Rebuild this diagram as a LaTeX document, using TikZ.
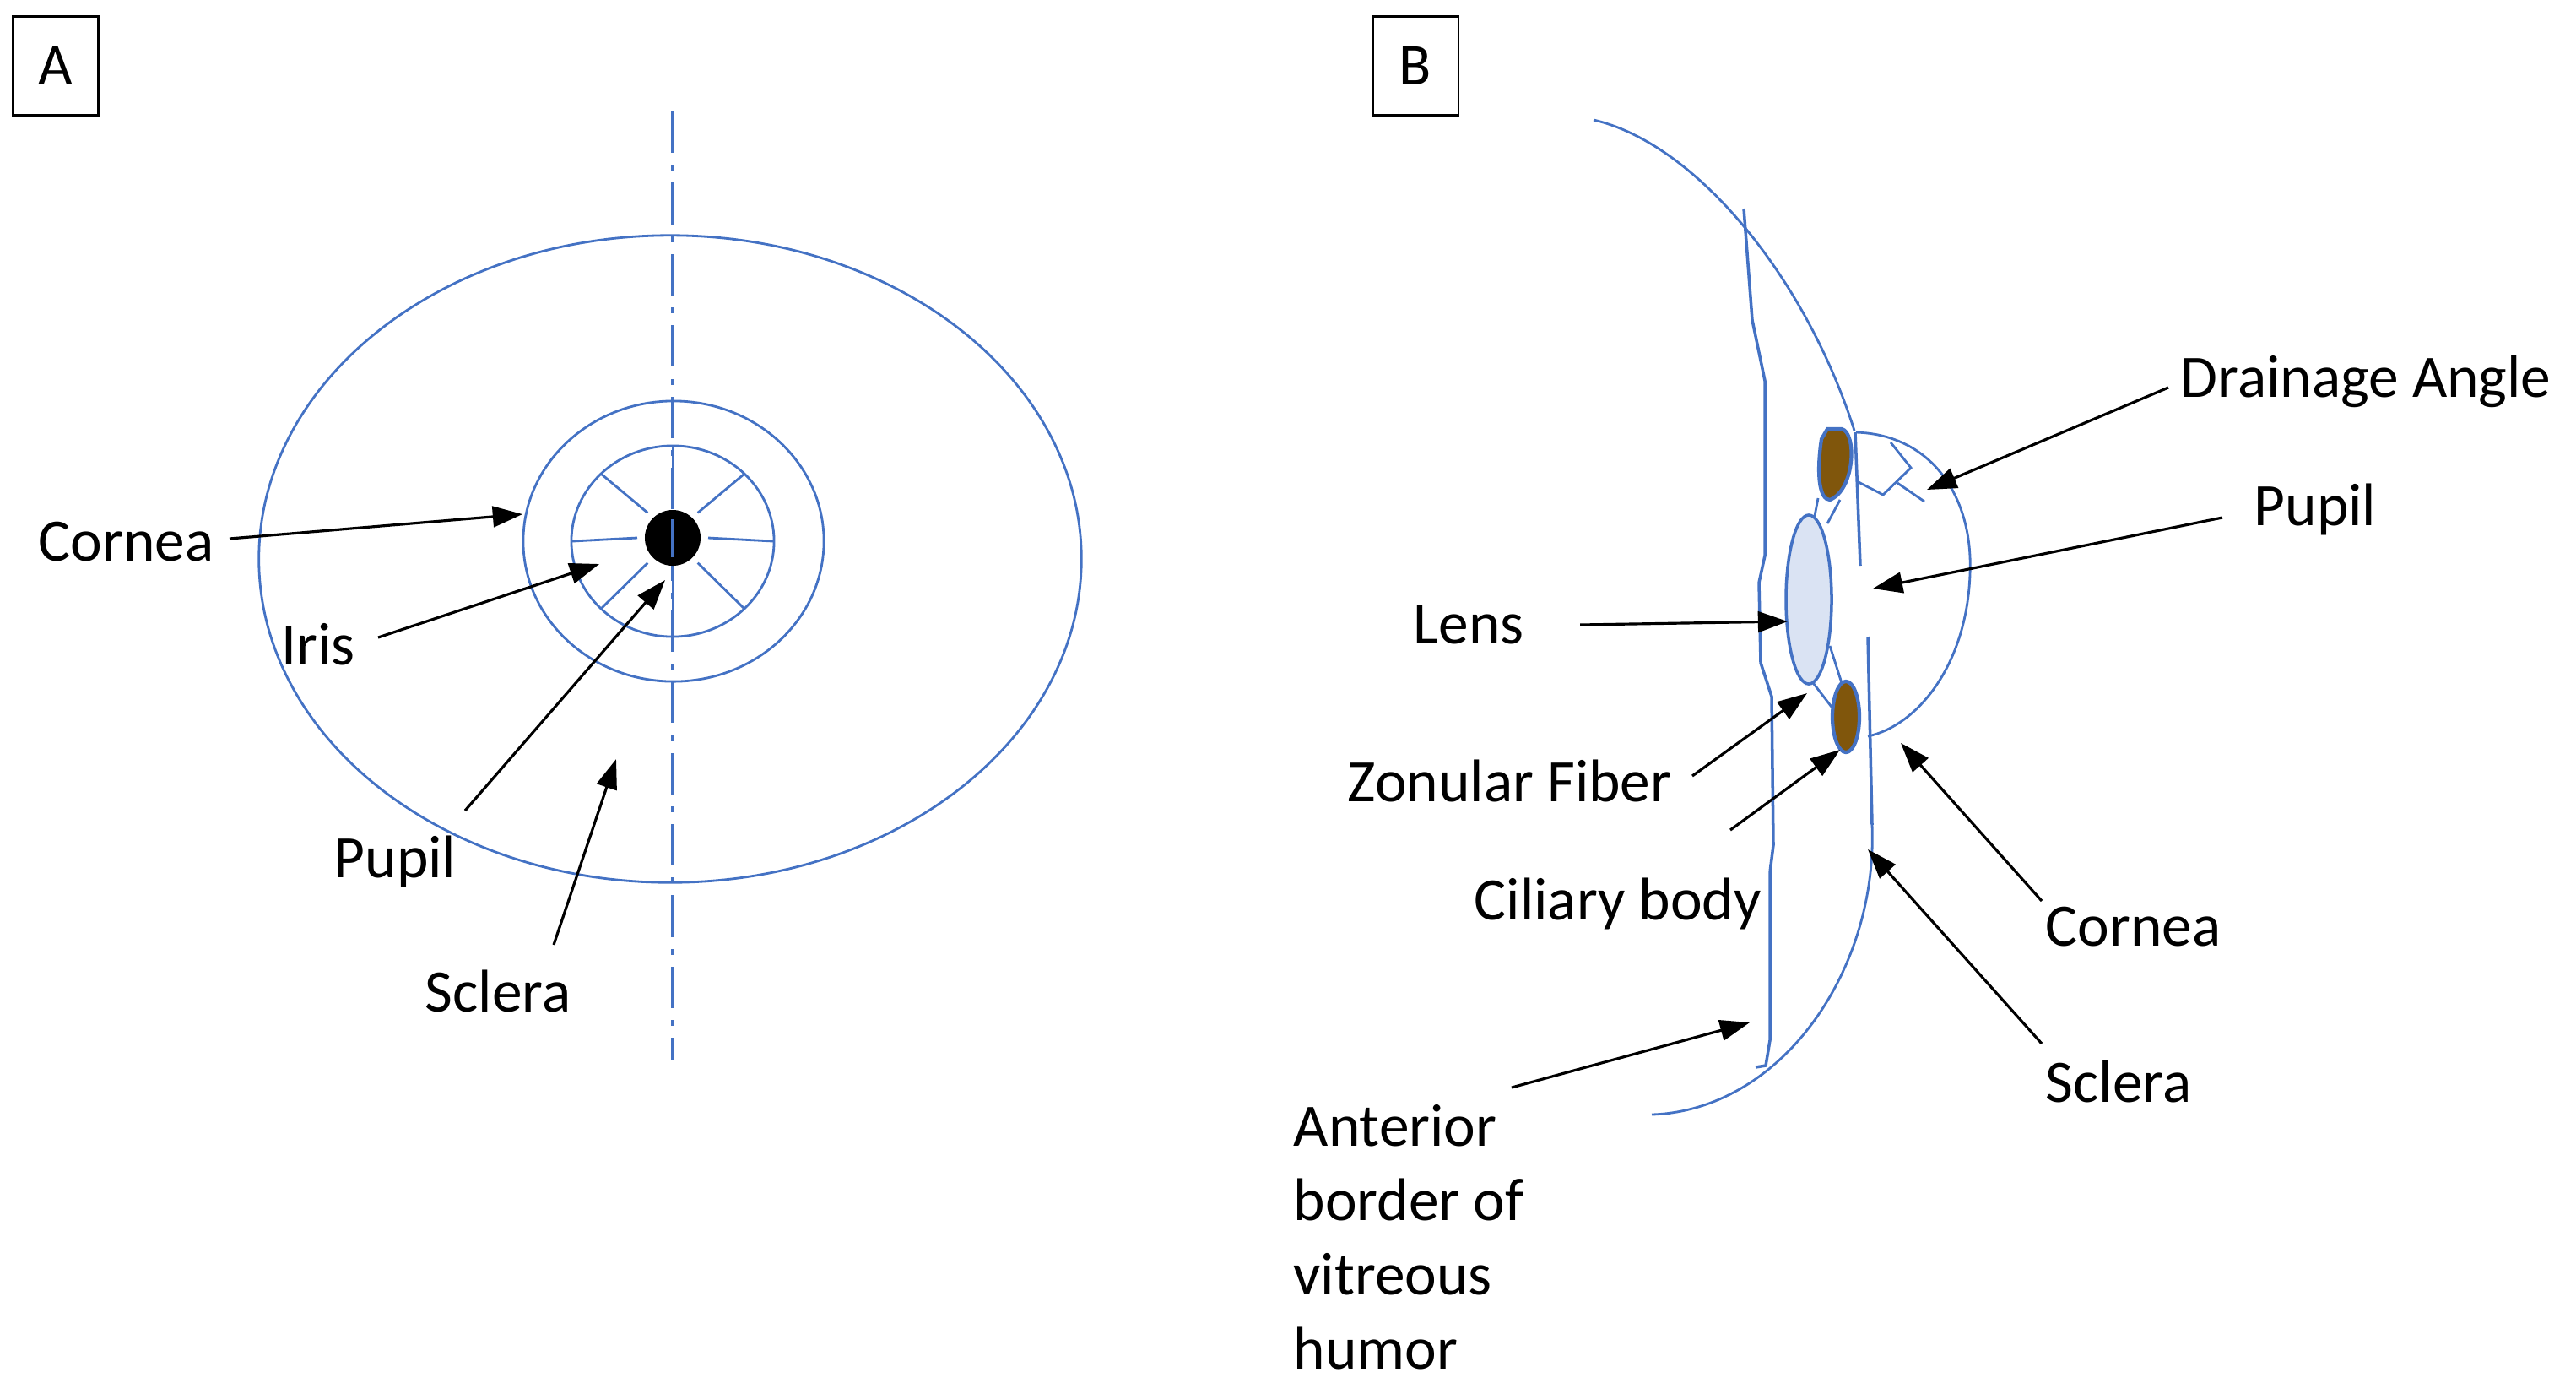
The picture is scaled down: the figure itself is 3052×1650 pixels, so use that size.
\documentclass[tikz,border=0pt]{standalone}
\usepackage{fontspec}
\setmainfont{Carlito}
\usetikzlibrary{arrows.meta}
\definecolor{eyeblue}{RGB}{68,114,196}
\definecolor{cil}{RGB}{128,86,12}
\definecolor{lensfill}{RGB}{218,227,243}
\begin{document}
\begin{tikzpicture}[x=0.01cm,y=-0.01cm,
  eye/.style={draw=eyeblue,line width=0.8pt},
  arr/.style={draw=black,line width=0.9pt,-{Triangle[length=10pt,width=7pt]}},
  lab/.style={font=\fontsize{20.3}{24}\selectfont,anchor=west,inner sep=0pt},
  box/.style={draw=black,line width=0.6pt,minimum width=1.01cm,minimum height=1.17cm,font=\fontsize{20}{24}\selectfont}]
\useasboundingbox (0,0) rectangle (3052,1650);
\fill[white] (0,0) rectangle (3052,1650);
% panel labels
\node[box] (boxA) at (66,78) {A};
\node[box] (boxB) at (1677,78) {B};
% ---- Panel A ----
\draw[eyeblue,line width=0.9pt,dash pattern=on 14pt off 4pt on 2pt off 4pt] (797,132) -- (797,1255);
\draw[eye] (794,662) ellipse [x radius=4.87cm,y radius=3.83cm];
\draw[eye] (798,641) ellipse [x radius=1.78cm,y radius=1.66cm];
\draw[eye] (797,641) ellipse [x radius=1.20cm,y radius=1.13cm];
\foreach \a in {0,45,...,315}
  \draw[eye] ({797+42*cos(\a)},{637-42*sin(\a)}) -- ({797+119*cos(\a)},{641-112*sin(\a)});
\fill[black] (797,637) circle (0.33cm);
\draw[eyeblue,line width=0.9pt] (797,615) -- (797,660);
\node[lab] (tCorneaA) at (45,642) {Cornea};
\node[lab] (tIris) at (333,763) {Iris};
\node[lab] (tPupilA) at (395,1020) {Pupil};
\node[lab] (tSclera) at (503,1174) {Sclera};
\coordinate (aC1) at (272,638); \coordinate (aC2) at (619,609);
\coordinate (aI1) at (448,755); \coordinate (aI2) at (710,668);
\coordinate (aP1) at (551,960); \coordinate (aP2) at (788,687);
\coordinate (aS1) at (656,1119); \coordinate (aS2) at (730,899);
\draw[arr] (aC1) -- (aC2);
\draw[arr] (aI1) -- (aI2);
\draw[arr] (aP1) -- (aP2);
\draw[arr] (aS1) -- (aS2);
% ---- Panel B ----
% sclera
\draw[eye] (1888,142) .. controls (2010,170) and (2140,330) .. (2197,510);
\draw[eye] (2218,977) .. controls (2225,1150) and (2110,1315) .. (1957,1320);
% iris lines
\draw[eye,line width=1pt] (2198,512) -- (2204,670);
\draw[eye,line width=1pt] (2213,754) -- (2218,977);
% cornea bulge
\draw[eye] (2199,512) .. controls (2290,515) and (2338,590) .. (2334,680)
  .. controls (2330,790) and (2270,860) .. (2213,872);
% drainage angle
\draw[eye] (2200,570) -- (2231,586) -- (2264,554) -- (2240,524);
\draw[eye] (2248,572) -- (2280,594);
% vitreous border
\draw[eye,line width=1pt] (2066,247) -- (2076,379) -- (2091,451) -- (2091,658) -- (2084,690)
  -- (2086,785) -- (2099,825) -- (2101,1001) -- (2097,1033) -- (2097,1232) -- (2092,1262) -- (2080,1264);
% zonular fibers
\draw[eye] (2149,616) -- (2154,590);
\draw[eye] (2165,620) -- (2180,592);
\draw[eye] (2139,797) -- (2176,845);
\draw[eye] (2168,765) -- (2182,809);
% lens
\draw[eye,fill=lensfill,line width=1pt] (2143,710) ellipse [x radius=0.27cm,y radius=1.0cm];
% ciliary bodies
\draw[eye,fill=cil,line width=1.2pt] (2165,508) -- (2182,508) .. controls (2200,512) and (2198,580) .. (2168,592)
  .. controls (2155,592) and (2152,560) .. (2158,520) -- cycle;
\draw[eye,fill=cil,line width=1.2pt] (2187,849) ellipse [x radius=0.16cm,y radius=0.42cm];
% labels
\node[lab] (tDrain) at (2583,452) {Drainage Angle};
\node[lab] (tPupilB) at (2670,603) {Pupil};
\node[lab] (tLens) at (1674,740) {Lens};
\node[lab] (tZon) at (1596,925) {Zonular Fiber};
\node[lab] (tCil) at (1746,1070) {Ciliary body};
\node[lab] (tCorneaB) at (2423,1098) {Cornea};
\node[lab] (tScleraB) at (2423,1281) {Sclera};
\node[lab,align=left,anchor=west,font=\fontsize{20.3}{25}\selectfont] (tVit) at (1532,1465) {Anterior\\border of\\vitreous\\humor};
\coordinate (bD1) at (2569,459); \coordinate (bD2) at (2283,580);
\coordinate (bP1) at (2633,613); \coordinate (bP2) at (2219,697);
\coordinate (bL1) at (1872,740); \coordinate (bL2) at (2118,736);
\coordinate (bZ1) at (2005,919); \coordinate (bZ2) at (2141,821);
\coordinate (bCi1) at (2050,983); \coordinate (bCi2) at (2180,888);
\coordinate (bCo1) at (2419,1067); \coordinate (bCo2) at (2252,880);
\coordinate (bS1) at (2419,1236); \coordinate (bS2) at (2213,1006);
\coordinate (bV1) at (1791,1288); \coordinate (bV2) at (2073,1211);
\draw[arr] (bD1) -- (bD2);
\draw[arr] (bP1) -- (bP2);
\draw[arr] (bL1) -- (bL2);
\draw[arr] (bZ1) -- (bZ2);
\draw[arr] (bCi1) -- (bCi2);
\draw[arr] (bCo1) -- (bCo2);
\draw[arr] (bS1) -- (bS2);
\draw[arr] (bV1) -- (bV2);
\end{tikzpicture}
\end{document}
